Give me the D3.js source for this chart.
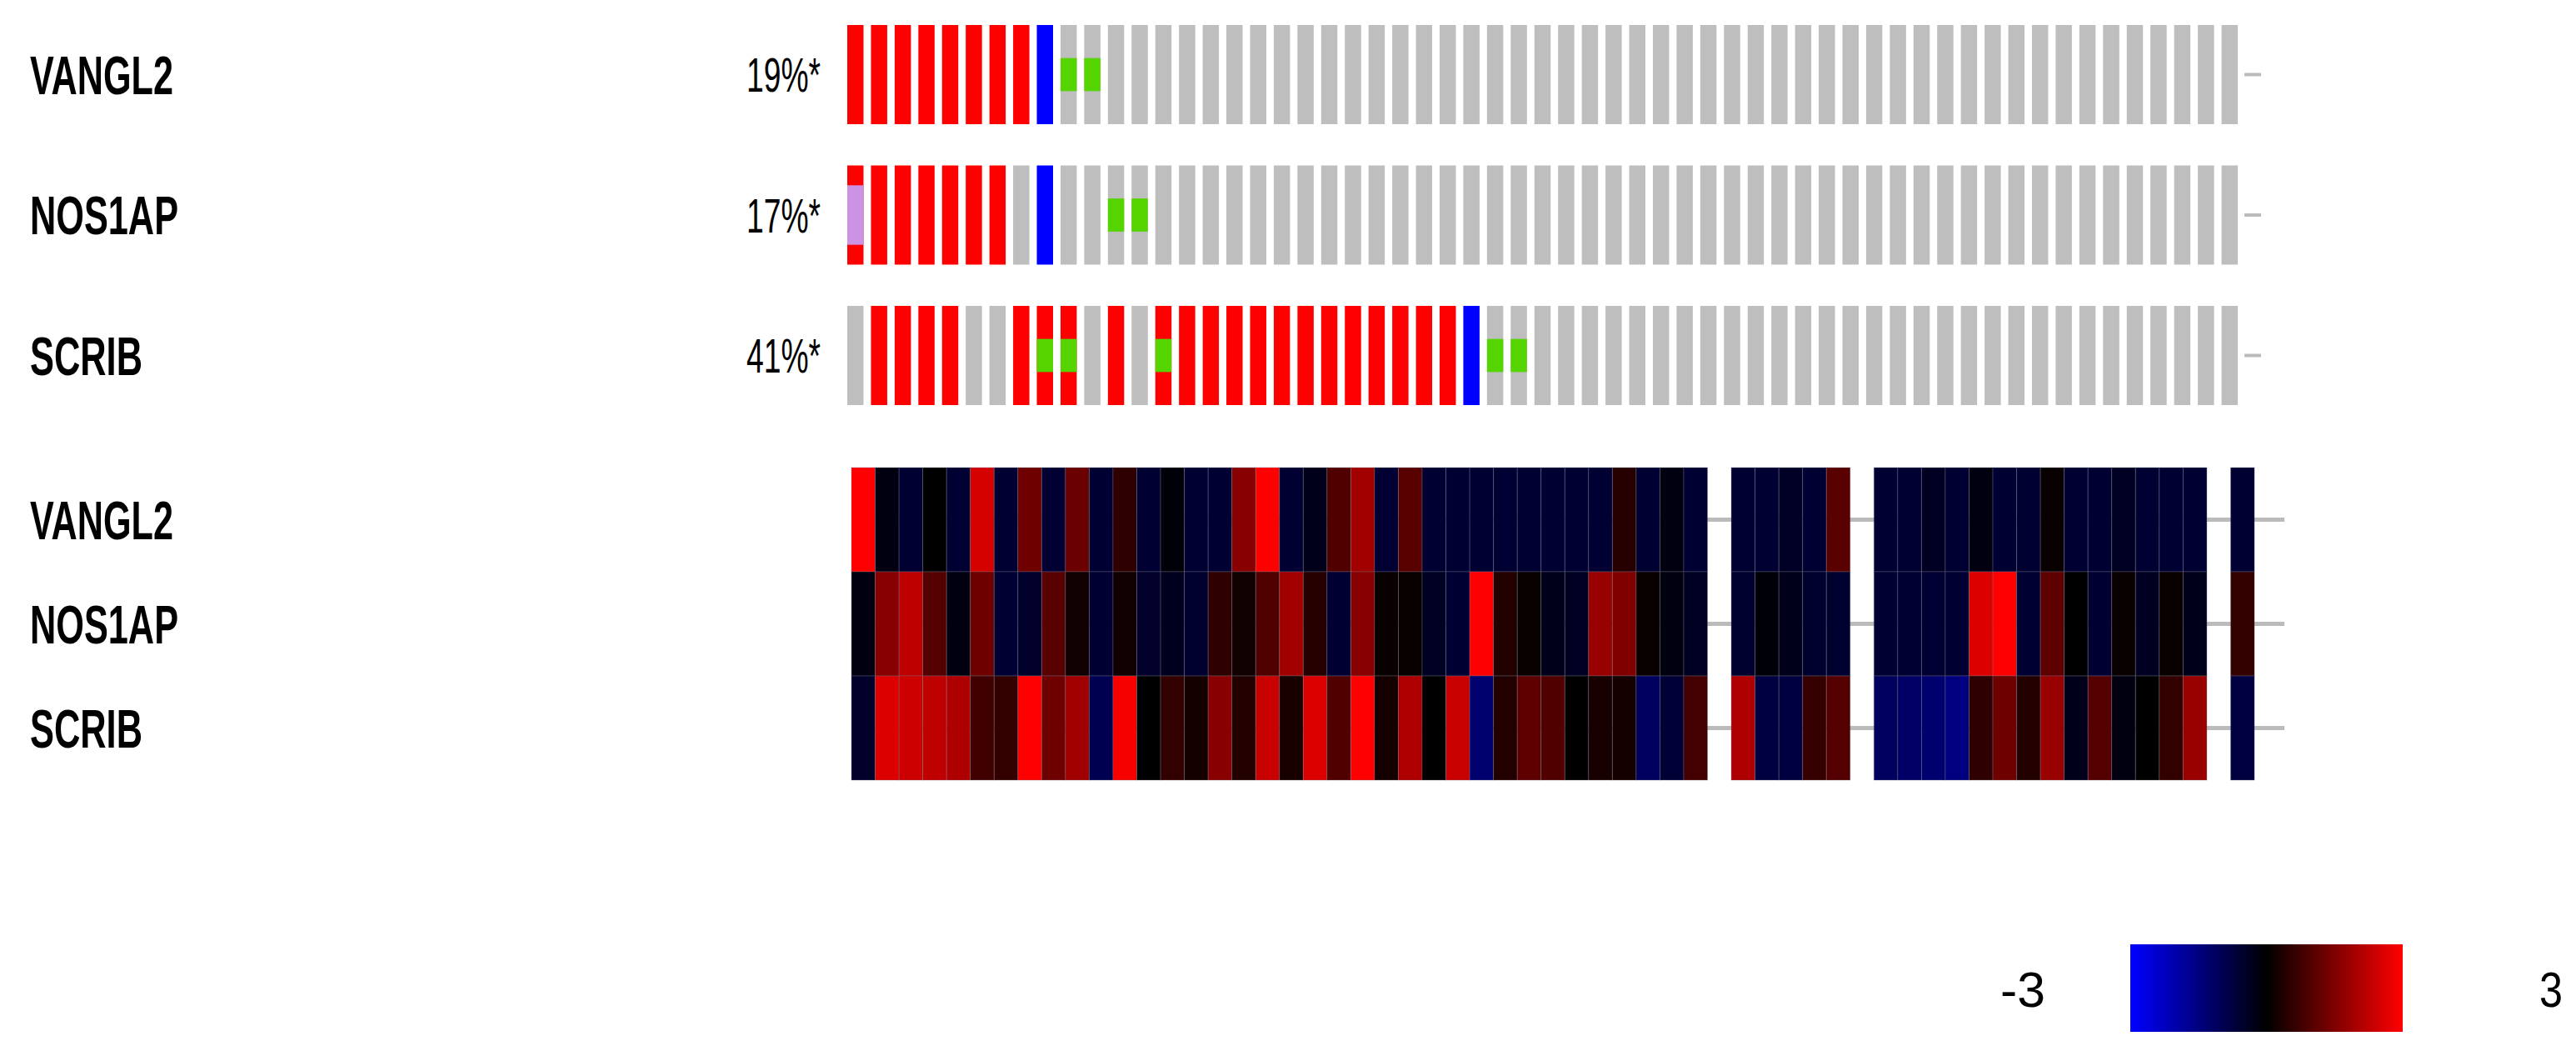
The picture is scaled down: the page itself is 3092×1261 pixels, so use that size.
<!DOCTYPE html>
<html><head><meta charset="utf-8">
<script src="https://cdn.jsdelivr.net/npm/d3@7"></script>
<style>body{margin:0;background:#fff}svg{display:block}</style>
</head><body>
<script>
const genes = ["VANGL2","NOS1AP","SCRIB"];
const pctLabels = ["19%*","17%*","41%*"];
const nSamples = 59;
// A=amplification, D=deep deletion, M=mutation, N=none, AM=amp+mutation, AU=amp+mRNA up
const altVANGL2 = ["A","A","A","A","A","A","A","A","D","M","M","N","N","N","N","N","N","N","N","N","N","N","N","N","N","N","N","N","N","N","N","N","N","N","N","N","N","N","N","N","N","N","N","N","N","N","N","N","N","N","N","N","N","N","N","N","N","N","N"];
const altNOS1AP = ["AU","A","A","A","A","A","A","N","D","N","N","M","M","N","N","N","N","N","N","N","N","N","N","N","N","N","N","N","N","N","N","N","N","N","N","N","N","N","N","N","N","N","N","N","N","N","N","N","N","N","N","N","N","N","N","N","N","N","N"];
const altSCRIB = ["N","A","A","A","A","N","N","A","AM","AM","N","A","N","AM","A","A","A","A","A","A","A","A","A","A","A","A","D","M","M","N","N","N","N","N","N","N","N","N","N","N","N","N","N","N","N","N","N","N","N","N","N","N","N","N","N","N","N","N","N"];
// expression z-scores (null = no data)
const expVANGL2 = [3,-0.2,-0.6,0,-0.6,2.5,-0.6,1.3,-0.6,1.25,-0.6,0.55,-0.6,-0.1,-0.6,-0.6,1.6,3,-0.6,-0.3,0.95,1.9,-0.6,1.05,-0.6,-0.6,-0.6,-0.6,-0.6,-0.6,-0.6,-0.6,0.45,-0.6,-0.2,-0.6,null,-0.6,-0.6,-0.45,-0.6,1.05,null,-0.6,-0.6,-0.4,-0.6,-0.2,-0.6,-0.6,0.1,-0.6,-0.6,-0.4,-0.6,-0.6,-0.6,null,-0.6];
const expNOS1AP = [-0.2,1.6,2.25,1.0,-0.2,1.3,-0.6,-0.5,1.05,0.2,-0.6,0.2,-0.5,-0.35,-0.55,0.55,0.2,0.95,1.9,0.45,-0.6,1.6,0.1,0.1,-0.4,-0.6,3,0.4,0.1,-0.3,-0.4,1.8,1.5,0.1,-0.2,-0.4,null,-0.55,-0.1,-0.3,-0.55,-0.55,null,-0.6,-0.6,-0.6,-0.6,2.6,3,-0.6,1.1,0,-0.6,0.1,-0.4,0.1,-0.3,null,0.6];
const expSCRIB = [-0.5,2.6,2.4,2.25,2.05,0.75,0.6,3,1.3,1.9,-0.95,2.9,0,0.6,0.25,1.6,0.4,2.35,0.3,2.6,0.95,3,0.25,2.05,0,2.35,-1.3,0.4,1.1,0.95,0,0.3,0.25,-1.1,-0.65,0.8,null,2.05,-0.75,-0.75,0.65,1.0,null,-1.1,-1.2,-1.3,-1.5,0.55,1.3,0.4,1.8,-0.3,1.0,-0.2,0,0.6,1.8,null,-0.75];
const legendTicks = [-3,3];

const alts = [altVANGL2, altNOS1AP, altSCRIB];
const exps = [expVANGL2, expNOS1AP, expSCRIB];
const W = 3092, H = 1261;
const svg = d3.select("body").append("svg").attr("width", W).attr("height", H);
const font = "'Liberation Sans',Arial,sans-serif";
const idx = d3.range(nSamples);
const labelW = [172,178,135];

// ---- Oncoprint ----
const xOnc = d3.scaleBand().domain(idx).range([1017, 2686]).paddingInner(0.315);
const yOnc = d3.scaleBand().domain(genes).range([30, 486]).paddingInner(0.294);
const col = {A:"#ff0000", D:"#0000ff", N:"#bebebe"};
genes.forEach((g, gi) => {
  const y0 = yOnc(g), h = yOnc.bandwidth();
  const grp = svg.append("g");
  alts[gi].forEach((a, i) => {
    const base = a[0] === "D" ? col.D : (a[0] === "A" ? col.A : col.N);
    grp.append("rect").attr("x", xOnc(i)).attr("y", y0).attr("width", xOnc.bandwidth()).attr("height", h).attr("fill", base);
    if (a.includes("M")) grp.append("rect").attr("x", xOnc(i)).attr("y", y0 + h/3).attr("width", xOnc.bandwidth()).attr("height", h/3).attr("fill", "#55d400");
    if (a.includes("U")) grp.append("rect").attr("x", xOnc(i)).attr("y", y0 + h*0.2).attr("width", xOnc.bandwidth()).attr("height", h*0.6).attr("fill", "#cc92e3");
  });
  svg.append("line").attr("x1", 2694).attr("x2", 2714).attr("y1", y0 + h/2).attr("y2", y0 + h/2).attr("stroke", "#bbb").attr("stroke-width", 4);
  svg.append("text").text(g).attr("x", 36).attr("y", y0 + h/2).attr("dy", "0.36em")
    .attr("font-family", font).attr("font-weight", "bold").attr("font-size", 64)
    .attr("textLength", labelW[gi]).attr("lengthAdjust", "spacingAndGlyphs");
  svg.append("text").text(pctLabels[gi]).attr("x", 896).attr("y", y0 + h/2).attr("dy", "0.36em")
    .attr("font-family", font).attr("font-size", 58)
    .attr("textLength", 89).attr("lengthAdjust", "spacingAndGlyphs");
});

// ---- Heatmap ----
const xH = d3.scaleBand().domain(idx).range([1022, 2706]);
const yH = d3.scaleBand().domain(genes).range([561, 936]);
const color = d3.scaleLinear().domain([-3, 0, 3]).range(["#0000ff", "#000000", "#ff0000"]).clamp(true);
genes.forEach((g) => {
  const cy = yH(g) + yH.bandwidth()/2;
  svg.append("line").attr("x1", 1022).attr("x2", 2742).attr("y1", cy).attr("y2", cy).attr("stroke", "#bbb").attr("stroke-width", 5);
});
genes.forEach((g, gi) => {
  svg.append("g").selectAll("rect").data(exps[gi].map((v, i) => ({v, i})).filter(d => d.v !== null))
    .join("rect").attr("x", d => xH(d.i)).attr("y", yH(g)).attr("width", xH.bandwidth()).attr("height", yH.bandwidth())
    .attr("fill", d => color(d.v)).attr("stroke", "rgba(120,120,140,0.35)").attr("stroke-width", 1);
  svg.append("text").text(g).attr("x", 36).attr("y", yH(g) + yH.bandwidth()/2).attr("dy", "0.36em")
    .attr("font-family", font).attr("font-weight", "bold").attr("font-size", 64)
    .attr("textLength", labelW[gi]).attr("lengthAdjust", "spacingAndGlyphs");
});

// ---- Legend ----
const defs = svg.append("defs");
const grad = defs.append("linearGradient").attr("id", "lg");
[-3, 0, 3].forEach(v => grad.append("stop").attr("offset", (v + 3) / 6).attr("stop-color", color(v)));
const xL = d3.scaleLinear().domain([-3, 3]).range([2557, 2884]);
svg.append("rect").attr("x", xL(-3)).attr("y", 1133).attr("width", xL(3) - xL(-3)).attr("height", 105).attr("fill", "url(#lg)");
const tickX = {"-3": 2401, "3": 3048};
const tickW = {"-3": 54, "3": 28};
legendTicks.forEach(t => svg.append("text").text(String(t)).attr("x", tickX[t]).attr("y", 1186).attr("dy", "0.36em")
  .attr("font-family", font).attr("font-size", 60)
  .attr("textLength", tickW[t]).attr("lengthAdjust", "spacingAndGlyphs"));
</script>
</body></html>
